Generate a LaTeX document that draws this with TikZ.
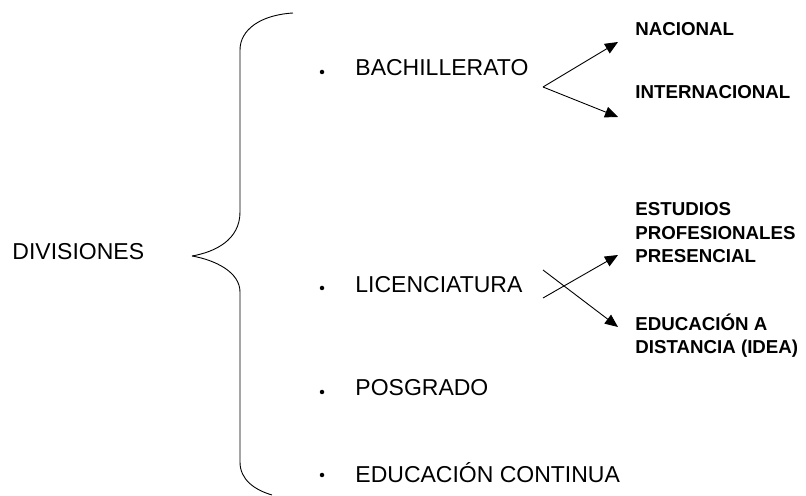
\documentclass[tikz,border=0pt]{standalone}
\usepackage{fontspec}
\setmainfont{Liberation Sans}
\usetikzlibrary{arrows.meta}

\begin{document}
\begin{tikzpicture}[>={Triangle[length=13bp,width=11bp]},line join=bevel,line width=0.9bp,
  item/.style={anchor=west,inner sep=0pt,font=\fontsize{23bp}{27bp}\selectfont},
  sub/.style={anchor=west,inner sep=0pt,align=left,font=\fontsize{18.7bp}{23.5bp}\selectfont\bfseries},
  dot/.style={circle,fill=black,inner sep=0pt,minimum size=4.5bp}]
\useasboundingbox (0bp,0bp) rectangle (806bp,496bp);
%%
\node (node_div) at (12bp,244bp) [item] {DIVISIONES};
  \draw [black] (293bp,483bp) .. controls (260bp,481bp) and (240bp,466bp) .. (240bp,446bp) -- (240bp,284bp)
    .. controls (240bp,256bp) and (215bp,244bp) .. (192bp,240bp)
    .. controls (215bp,236bp) and (240bp,224bp) .. (240bp,204bp) -- (240bp,34bp)
    .. controls (240bp,16bp) and (255bp,6bp) .. (272bp,1bp);
%
\node (dot_1) at (322bp,424bp) [dot] {};
  \node (node_1) at (355bp,428bp) [item] {BACHILLERATO};
  \node (dot_2) at (322bp,208bp) [dot] {};
  \node (node_2) at (355bp,211bp) [item] {LICENCIATURA};
  \node (dot_3) at (322bp,104bp) [dot] {};
  \node (node_3) at (355bp,108bp) [item] {POSGRADO};
  \node (dot_4) at (322bp,21bp) [dot] {};
  \node (node_4) at (355bp,23bp) [item] {EDUCACIÓN CONTINUA};
%
\node (node_1a) at (635bp,467bp) [sub] {NACIONAL};
  \node (node_1b) at (635bp,404bp) [sub] {INTERNACIONAL};
  \node (node_2a) at (635bp,263bp) [sub] {ESTUDIOS\\PROFESIONALES\\PRESENCIAL};
  \node (node_2b) at (635bp,160.5bp) [sub] {EDUCACIÓN A\\DISTANCIA (IDEA)};
%
\coordinate (v_1) at (543bp,409bp);
  \coordinate (tip_1a) at (618bp,454bp);
  \coordinate (tip_1b) at (618bp,379bp);
  \coordinate (v_2a) at (543bp,198bp);
  \coordinate (v_2b) at (543bp,226bp);
  \coordinate (tip_2a) at (618bp,241bp);
  \coordinate (tip_2b) at (618bp,169bp);
  \draw [black,->] (v_1) -- (tip_1a);
  \draw [black,->] (v_1) -- (tip_1b);
  \draw [black,->] (v_2a) -- (tip_2a);
  \draw [black,->] (v_2b) -- (tip_2b);
%
\end{tikzpicture}
\end{document}
